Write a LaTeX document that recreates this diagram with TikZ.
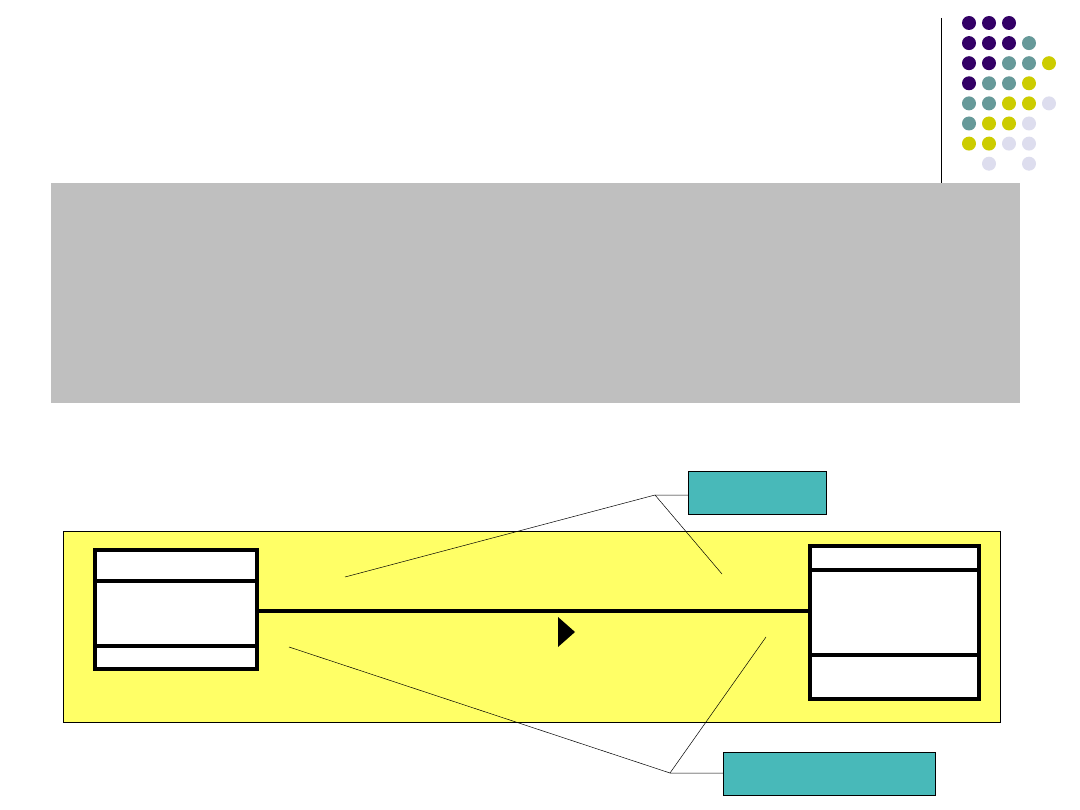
\documentclass[tikz,border=0pt]{standalone}
\begin{document}
\begin{tikzpicture}[x=1pt,y=-1pt,
  cls/.style={draw=black,line width=3.5pt,fill=white},
  callout/.style={draw=black,line width=0.6pt},
  lead/.style={draw=black,line width=0.5pt}]
\definecolor{cP}{HTML}{330066}\definecolor{cT}{HTML}{669999}
\definecolor{cY}{HTML}{CCCC00}\definecolor{cL}{HTML}{DDDDEE}
\definecolor{cBox}{HTML}{48B9B9}\definecolor{cYel}{HTML}{FFFF66}
\useasboundingbox (0,0) rectangle (1080,810);
\fill[white] (0,0) rectangle (1080,810);
\draw[line width=1pt] (941,18) -- (941,183);
\def\mydot#1#2#3{\fill[#3] (969+20*#1,23+20.1*#2) circle (7);}
\mydot00{cP}\mydot10{cP}\mydot20{cP}
\mydot01{cP}\mydot11{cP}\mydot21{cP}\mydot31{cT}
\mydot02{cP}\mydot12{cP}\mydot22{cT}\mydot32{cT}\mydot42{cY}
\mydot03{cP}\mydot13{cT}\mydot23{cT}\mydot33{cY}
\mydot04{cT}\mydot14{cT}\mydot24{cY}\mydot34{cY}\mydot44{cL}
\mydot05{cT}\mydot15{cY}\mydot25{cY}\mydot35{cL}
\mydot06{cY}\mydot16{cY}\mydot26{cL}\mydot36{cL}
\mydot17{cL}\mydot37{cL}
\fill[black!25] (51,183) rectangle (1020,403);
\node[draw=black,line width=0.8pt,fill=cYel,minimum width=937,minimum height=191,inner sep=0,anchor=north west] (frame) at (63,531) {};
\node[cls,minimum width=162,minimum height=119,inner sep=0,anchor=north west] (A) at (93,548) {};
\draw[line width=3.5pt] (93,581) -- (255,581) (93,646) -- (255,646);
\node[cls,minimum width=169,minimum height=153,inner sep=0,anchor=north west] (B) at (808,544) {};
\draw[line width=3.5pt] (808,570) -- (977,570) (808,655) -- (977,655);
\draw[line width=3.5pt] (A.east |- 0,611) -- (B.west |- 0,611);
\fill[black] (558,617) -- (575,632) -- (558,647) -- cycle;
\node[callout,fill=cBox,minimum width=138,minimum height=43,inner sep=0,anchor=north west] (c1) at (688,471) {};
\node[callout,fill=cBox,minimum width=212,minimum height=43,inner sep=0,anchor=north west] (c2) at (723,752) {};
\coordinate (j1) at (655,495);
\coordinate (j2) at (670,773);
\draw[lead] (c1.west |- j1) -- (j1) -- (345,577);
\draw[lead] (j1) -- (722,574);
\draw[lead] (c2.west |- j2) -- (j2) -- (289,647);
\draw[lead] (j2) -- (766,637);
\end{tikzpicture}
\end{document}
